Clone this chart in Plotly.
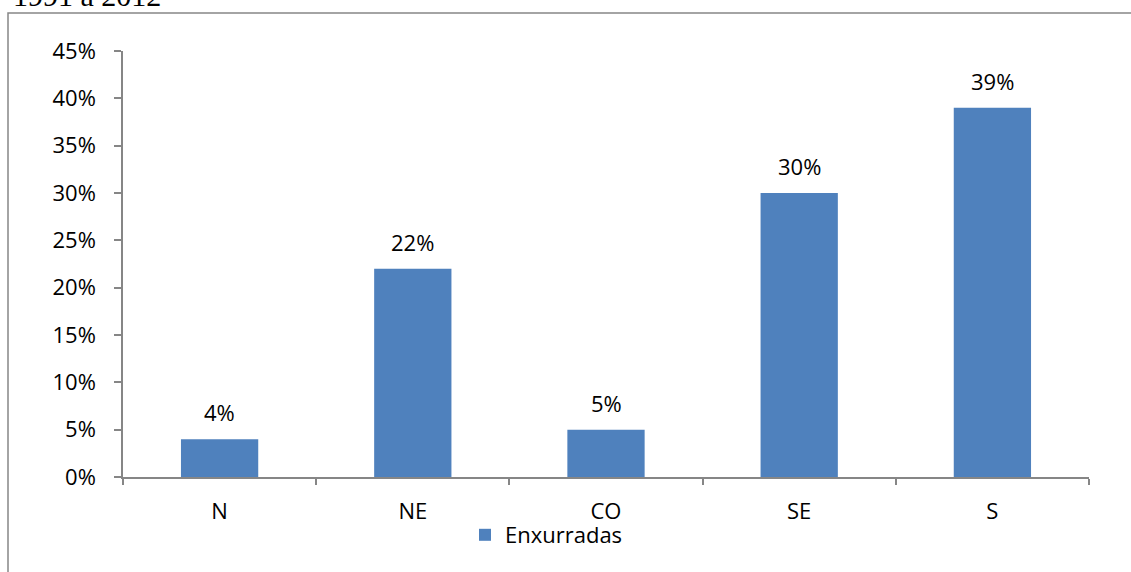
import plotly.graph_objects as go

# Regional share of flash-flood ("enxurradas") records, 1991 to 2012
regions = ["N", "NE", "CO", "SE", "S"]
shares = [4, 22, 5, 30, 39]
y_ticks = [0, 5, 10, 15, 20, 25, 30, 35, 40, 45]
y_tick_text = [f"{t}%" for t in y_ticks]

W, H = 1131, 572
L, R, T, B = 123, 42, 51, 95
plot_h = H - T - B
plot_w = W - L - R

def py(pix):
    """pixel row -> paper y"""
    return (H - B - pix) / plot_h

def px(pix):
    """pixel column -> paper x"""
    return (pix - L) / plot_w

BAR = "#4F81BD"
AXIS = "#868686"
FONT = "Open Sans, Noto Sans, sans-serif"
FS = 22

fig = go.Figure()
fig.add_trace(go.Bar(
    x=regions, y=shares, name="Enxurradas",
    marker=dict(color=BAR, line=dict(width=0)),
    width=0.4,
))

for r, v in zip(regions, shares):
    fig.add_annotation(x=r, y=v, xref="x", yref="y", text=f"{v}%",
                       showarrow=False, yanchor="bottom", yshift=10,
                       font=dict(size=FS, color="black", family=FONT))

# caption fragment above the frame
fig.add_annotation(x=px(11), y=py(-5), xref="paper", yref="paper",
                   text="1991 a 2012", showarrow=False,
                   xanchor="left", yanchor="middle",
                   font=dict(size=30, color="black",
                             family="Liberation Serif, Times New Roman, serif"))

# chart frame
fig.add_shape(type="rect", xref="paper", yref="paper",
              x0=px(8), x1=px(1160), y0=py(620), y1=py(13),
              line=dict(color=AXIS, width=1.5), fillcolor="rgba(0,0,0,0)",
              layer="below")

fig.update_layout(
    width=W, height=H,
    margin=dict(l=L, r=R, t=T, b=B, pad=0),
    paper_bgcolor="white", plot_bgcolor="white",
    font=dict(family=FONT, size=FS, color="black"),
    showlegend=True,
    legend=dict(orientation="h", x=px(465), xanchor="left",
                y=py(535), yanchor="middle",
                font=dict(size=FS, color="black", family=FONT),
                bgcolor="rgba(0,0,0,0)"),
    xaxis=dict(
        type="category", showgrid=False, showline=True,
        linecolor=AXIS, linewidth=1.5,
        ticks="outside", tickson="boundaries", ticklen=6,
        tickcolor=AXIS, tickwidth=1.5,
        ticklabelstandoff=14,
        tickfont=dict(size=FS, color="black"),
        range=[-0.5, 4.5],
    ),
    yaxis=dict(
        range=[0, 45], tickvals=y_ticks, ticktext=y_tick_text,
        showgrid=False, showline=True, zeroline=False,
        linecolor=AXIS, linewidth=1.5,
        ticks="outside", ticklen=7, tickcolor=AXIS, tickwidth=1.5,
        ticklabelstandoff=14,
        tickfont=dict(size=FS, color="black"),
    ),
)

fig.write_html("out.html")
